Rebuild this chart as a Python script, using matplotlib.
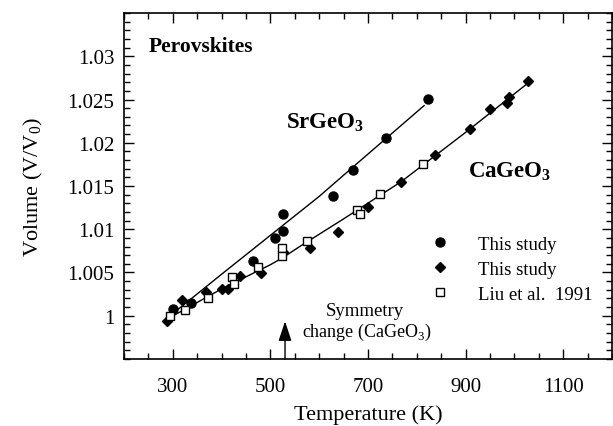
from matplotlib import pyplot as plt
from matplotlib.ticker import MultipleLocator, FixedLocator
import numpy as np

# SrGeO3, this study (circles)
sr_temp = [300, 338, 465, 509, 525, 526, 629, 670, 737, 824]
sr_vol = [1.0008, 1.0015, 1.0063, 1.0090, 1.0098, 1.0118, 1.0138, 1.0168, 1.0206, 1.0251]

# CaGeO3, this study (diamonds)
ca_temp = [289, 319, 368, 400, 414, 438, 480, 526, 581, 639, 701, 768, 837, 910, 950, 984, 989, 1028]
ca_vol = [0.9994, 1.0018, 1.0028, 1.0031, 1.0031, 1.0046, 1.0049, 1.0074, 1.0078, 1.0097,
          1.0126, 1.0155, 1.0186, 1.0216, 1.0239, 1.0246, 1.0253, 1.0271]

# CaGeO3, Liu et al. 1991 (open squares)
liu_temp = [294, 324, 373, 421, 425, 475, 523, 524, 574, 677, 684, 725, 813]
liu_vol = [1.0000, 1.0007, 1.0020, 1.0045, 1.0037, 1.0056, 1.0078, 1.0069, 1.0087,
           1.0122, 1.0118, 1.0141, 1.0175]

# fitted curves
sr_fit_temp = [288, 400, 500, 600, 700, 815]
sr_fit_vol = [0.9997, 1.0048, 1.0093, 1.0138, 1.0187, 1.0243]
ca_fit_temp = [288, 400, 500, 525, 560, 650, 768, 900, 1030]
ca_fit_vol = [0.9996, 1.0031, 1.0059, 1.0067, 1.0080, 1.0112, 1.0155, 1.0212, 1.0270]

xticks = [300, 500, 700, 900, 1100]
yticks = [1.0, 1.005, 1.01, 1.015, 1.02, 1.025, 1.03]
ytick_labels = ['1', '1.005', '1.01', '1.015', '1.02', '1.025', '1.03']

symmetry_temp = 530


def main():
	plt.rcParams['font.family'] = ['Liberation Serif', 'DejaVu Serif']
	plt.rcParams['mathtext.fontset'] = 'custom'
	plt.rcParams['mathtext.rm'] = 'Liberation Serif'
	plt.rcParams['mathtext.bf'] = 'Liberation Serif:bold'

	fig = plt.figure(figsize=(6.13, 4.27), dpi=100)
	ax = fig.add_axes([0.2023, 0.157, 0.796, 0.81])

	for s in ax.spines.values():
		s.set_linewidth(1.2)

	#fit lines
	ax.plot(sr_fit_temp, sr_fit_vol, color='k', linewidth=1.0)
	ax.plot(ca_fit_temp, ca_fit_vol, color='k', linewidth=1.0)

	#data
	ax.plot(sr_temp, sr_vol, linestyle='', marker='o', color='k', markersize=6.5,
	        label='This study', clip_on=False)
	ax.plot(ca_temp, ca_vol, linestyle='', marker='D', color='k', markersize=4.8,
	        label='This study', clip_on=False)
	ax.plot(liu_temp, liu_vol, linestyle='', marker='s', markerfacecolor='white',
	        markeredgecolor='k', markeredgewidth=1.0, markersize=6.2,
	        label='Liu et al.  1991', clip_on=False)

	ax.set_xlim(200, 1200)
	ax.set_ylim(0.995, 1.035)

	ax.xaxis.set_major_locator(FixedLocator(xticks))
	ax.xaxis.set_minor_locator(MultipleLocator(50))
	ax.yaxis.set_major_locator(FixedLocator(yticks))
	ax.yaxis.set_minor_locator(MultipleLocator(0.001))
	ax.set_yticklabels(ytick_labels)

	ax.tick_params(which='both', direction='in', top=True, right=True, labelsize=15, width=1.0)
	ax.tick_params(which='major', length=7.5)
	ax.tick_params(which='minor', length=4)
	ax.tick_params(axis='x', which='major', pad=13)
	ax.tick_params(axis='y', which='major', pad=7)

	#labels
	ax.set_xlabel('Temperature (K)', fontsize=16, labelpad=6)
	ax.set_ylabel('Volume (V/V$_0$)', fontsize=16, labelpad=16)

	ax.text(0.05, 0.905, 'Perovskites', transform=ax.transAxes, fontsize=15.5,
	        fontweight='bold', ha='left', va='center')
	ax.text(612, 1.0218, r'SrGeO$_\mathbf{3}$', fontsize=16.5, fontweight='bold',
	        ha='center', va='baseline')
	ax.text(990, 1.0162, r'CaGeO$_\mathbf{3}$', fontsize=16.5, fontweight='bold',
	        ha='center', va='baseline')

	ax.legend(loc='center left', bbox_to_anchor=(0.594, 0.260), frameon=False,
	          fontsize=13.5, handletextpad=1.0, labelspacing=0.42, borderaxespad=0.0)

	#symmetry change arrow
	ax.annotate('', xy=(symmetry_temp, 0.99935), xytext=(symmetry_temp, 0.995),
	            arrowprops=dict(arrowstyle='-|>,head_length=1.2,head_width=0.4',
	                            color='k', linewidth=1.0, shrinkA=0, shrinkB=0))
	ax.text(694, 1.00065, 'Symmetry', fontsize=13.5, ha='center', va='center')
	ax.text(565, 0.99815, r'change (CaGeO$_3$)', fontsize=13, ha='left', va='center')

	fig.savefig('out.png', dpi=100)


if __name__ == '__main__':
	main()
